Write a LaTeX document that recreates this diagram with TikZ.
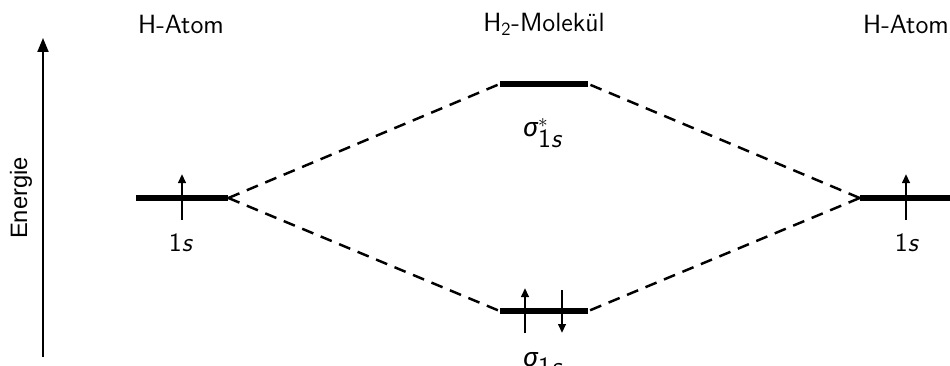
\documentclass[tikz,border=0pt]{standalone}
\usepackage{fontspec}
\newfontfamily\axisfont{Liberation Sans}
\newfontfamily\greekfont{Fira Sans}
\usetikzlibrary{arrows.meta,positioning}
\tikzset{
  >={Triangle[length=1.8mm,width=1.5mm]},
  orbital/.style={fill=black,inner sep=0pt,minimum width=#1,minimum height=1.2mm},
  orbital/.default=18.4mm,
  spin/.style={->,line width=1.3pt},
  mix/.style={line width=1.4pt,dash pattern=on 2.4mm off 1.6mm},
  title/.style={font=\sffamily\fontsize{15}{17}\selectfont},
  orblabel/.style={font=\sffamily\fontsize{15}{17}\selectfont,inner sep=0pt},
}
\newcommand{\sig}{{\greekfont\itshape σ}}

\begin{document}
\begin{tikzpicture}
  \useasboundingbox (0,0) rectangle (19,7.3);
  % energy axis
  \coordinate (e0) at (0.86,0.16);
  \coordinate (e1) at (0.86,6.54);
  \draw[line width=1.1pt,-{Triangle[length=2.8mm,width=2.2mm]}] (e0) -- (e1);
  \node[rotate=90,font=\axisfont\fontsize{13.5}{15}\selectfont] (energy) at (0.42,3.34) {Energie};
  % levels
  \node[orbital] (hL) at (3.64,3.34) {};
  \node[orbital] (hR) at (18.12,3.34) {};
  \node[orbital=17.6mm] (anti) at (10.88,5.62) {};
  \node[orbital=17.6mm] (bond) at (10.88,1.08) {};
  % titles
  \node[title] (tL) at (3.62,6.82) {H-Atom};
  \node[title] (tM) at (10.88,6.82) {H\textsubscript{2}-Molekül};
  \node[title] (tR) at (18.12,6.82) {H-Atom};
  % labels
  \node[orblabel] (lL) at (3.62,2.44) {1\textit{s}};
  \node[orblabel] (lR) at (18.14,2.44) {1\textit{s}};
  \node[orblabel] (lA) at (10.86,4.64) {\sig$^{*}_{\textsf{1\textit{s}}}$};
  \node[orblabel] (lB) at (10.86,0.02) {\sig$_{\textsf{1\textit{s}}}$};
  % correlation lines
  \draw[mix] (hL.east) -- (anti.west);
  \draw[mix] (hL.east) -- (bond.west);
  \draw[mix] (hR.west) -- (anti.east);
  \draw[mix] (hR.west) -- (bond.east);
  % electrons
  \draw[spin] ([yshift=-4.4mm]hL.center) -- ([yshift=4.8mm]hL.center);
  \draw[spin] ([yshift=-4.4mm]hR.center) -- ([yshift=4.8mm]hR.center);
  \draw[spin] ([xshift=-3.8mm,yshift=-4.4mm]bond.center) -- ([xshift=-3.8mm,yshift=4.6mm]bond.center);
  \draw[spin] ([xshift=3.6mm,yshift=4.2mm]bond.center) -- ([xshift=3.6mm,yshift=-4.4mm]bond.center);
\end{tikzpicture}
\end{document}
